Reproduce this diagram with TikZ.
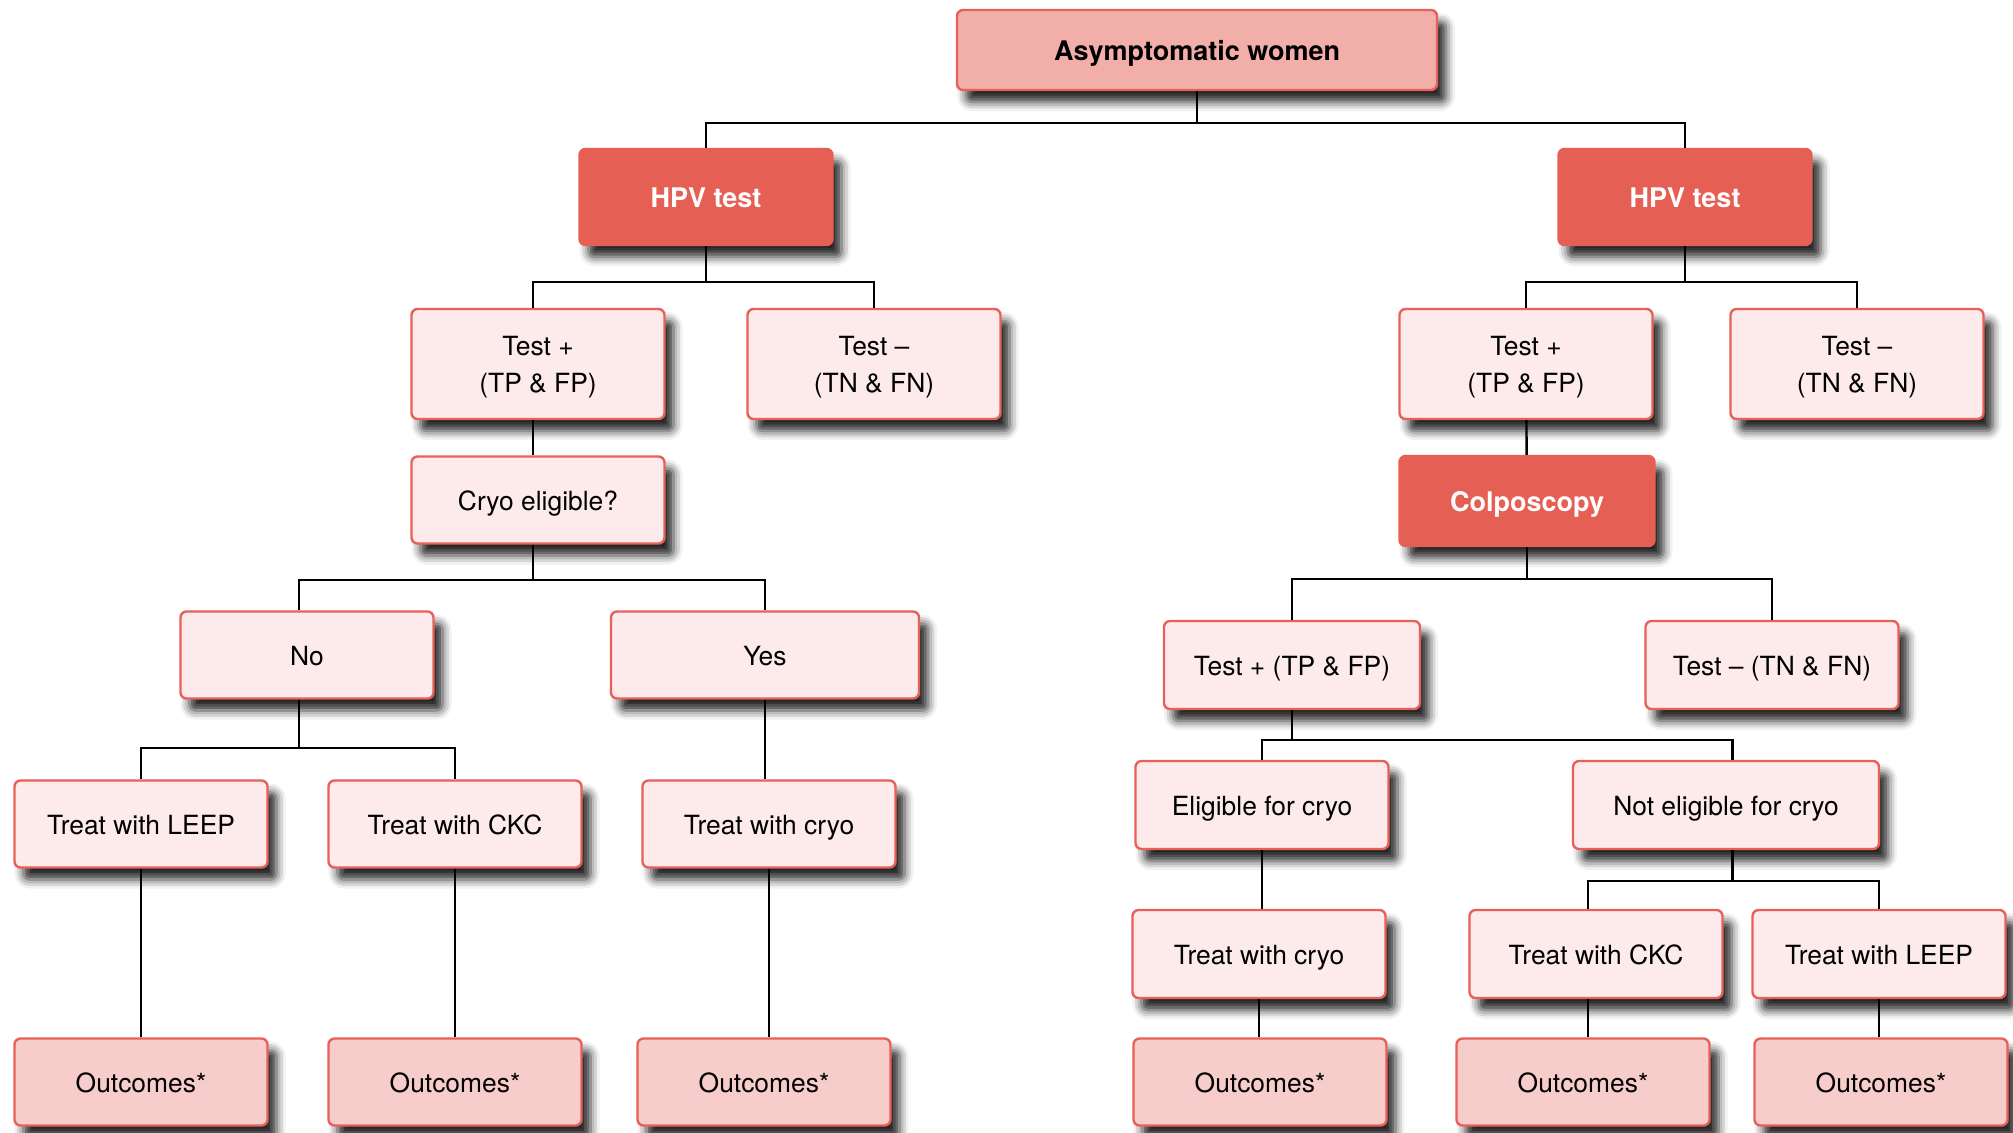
\documentclass[tikz,border=0pt]{standalone}
\usepackage{fontspec}
\setmainfont{TeX Gyre Heros}
\usetikzlibrary{shadows.blur}

\definecolor{edgered}{HTML}{E8605A}
\definecolor{darkred}{HTML}{E65F55}
\definecolor{topfill}{HTML}{F2AEA9}
\definecolor{palefill}{HTML}{FCEBEA}
\definecolor{outfill}{HTML}{F7CDCB}

\tikzset{
  box/.style={draw=edgered, line width=1.2pt, rounded corners=3pt,
    minimum width=126.5pt, minimum height=43.5pt, inner sep=2pt,
    text height=12.6pt, text depth=2.4pt,
    align=center, font=\fontsize{13.2}{18.6}\selectfont,
    blur shadow={shadow xshift=4.5pt, shadow yshift=-6pt,
      shadow blur radius=4.5pt, shadow opacity=85}},
  pale/.style={box, fill=palefill},
  twoline/.style={pale, minimum height=55pt, text height=31.2pt},
  outbox/.style={box, fill=outfill},
  strong/.style={box, fill=darkred, draw=darkred, text=white,
    font=\fontsize{13.5}{18.6}\selectfont\bfseries},
  link/.style={line width=1.2pt, black}
}

% parent -> horizontal bar at y -> child
\newcommand\forkto[3]{\draw[link] (#1.south) -- (#1.south |- 0,#2) -| (#3.north);}

\begin{document}
\begin{tikzpicture}[x=0.5pt, y=-0.5pt]
    \useasboundingbox (0,0) rectangle (2013,1132);

    \node[box, fill=topfill, minimum width=240pt, minimum height=40pt,
      font=\fontsize{13.5}{18.6}\selectfont\bfseries] (root) at (1197,50) {Asymptomatic women};

    \node[strong, minimum height=48pt] (hpvL) at (706,197) {HPV test};
    \node[strong, minimum height=48pt] (hpvR) at (1685,197) {HPV test};

    \node[twoline] (posL) at (538,364) {Test +\\(TP \& FP)};
    \node[twoline] (negL) at (874,364) {Test –\\(TN \& FN)};
    \node[twoline] (posR) at (1526,364) {Test +\\(TP \& FP)};
    \node[twoline] (negR) at (1857,364) {Test –\\(TN \& FN)};

    \node[pale] (cryoQ) at (538,500) {Cryo eligible?};
    \node[strong, minimum width=127.5pt, minimum height=45pt] (colpo) at (1527,501) {Colposcopy};

    \node[pale] (no) at (307,655) {No};
    \node[pale, minimum width=154pt] (yes) at (765,655) {Yes};
    \node[pale, minimum width=128pt, minimum height=44pt] (posC) at (1292,665) {Test + (TP \& FP)};
    \node[pale, minimum height=44pt] (negC) at (1772,665) {Test – (TN \& FN)};

    \node[pale] (leepL) at (141,824) {Treat with LEEP};
    \node[pale] (ckcL) at (455,824) {Treat with CKC};
    \node[pale] (cryoL) at (769,824) {Treat with cryo};
    \node[pale, minimum height=44pt] (elig) at (1262,805) {Eligible for cryo};
    \node[pale, minimum width=153pt, minimum height=44pt] (nelig) at (1726,805) {Not eligible for cryo};

    \node[pale, minimum height=44pt] (cryoR) at (1259,954) {Treat with cryo};
    \node[pale, minimum height=44pt] (ckcR) at (1596,954) {Treat with CKC};
    \node[pale, minimum height=44pt] (leepR) at (1879,954) {Treat with LEEP};

    \node[outbox] (out1) at (141,1082) {Outcomes*};
    \node[outbox] (out2) at (455,1082) {Outcomes*};
    \node[outbox] (out3) at (764,1082) {Outcomes*};
    \node[outbox] (out4) at (1260,1082) {Outcomes*};
    \node[outbox] (out5) at (1583,1082) {Outcomes*};
    \node[outbox] (out6) at (1881,1082) {Outcomes*};

    \forkto{root}{123}{hpvL}
    \forkto{root}{123}{hpvR}
    \draw[link] (hpvL.south) -- (hpvL.south |- 0,282) -| ([xshift=-2.6pt]posL.north);
    \forkto{hpvL}{282}{negL}
    \forkto{hpvR}{282}{posR}
    \forkto{hpvR}{282}{negR}
    \draw[link] ([xshift=-2.6pt]posL.south) -- ([xshift=-2.6pt]cryoQ.north);
    \draw[link] (posR) -- (colpo);
    \draw[link] ([xshift=-2.6pt]cryoQ.south) -- ([xshift=-2.6pt]cryoQ.south |- 0,580) -| ([xshift=-3.9pt]no.north);
    \draw[link] ([xshift=-2.6pt]cryoQ.south) -- ([xshift=-2.6pt]cryoQ.south |- 0,580) -| (yes.north);
    \forkto{colpo}{579}{posC}
    \forkto{colpo}{579}{negC}
    \draw[link] ([xshift=-3.9pt]no.south) -- ([xshift=-3.9pt]no.south |- 0,748) -| (leepL.north);
    \draw[link] ([xshift=-3.9pt]no.south) -- ([xshift=-3.9pt]no.south |- 0,748) -| (ckcL.north);
    \draw[link] (yes.south) -- (yes.south |- cryoL.north);
    \forkto{posC}{740}{elig}
    \draw[link] (posC.south) -- (posC.south |- 0,740) -| ([xshift=3.2pt]nelig.north);
    \draw[link] (elig.south) -- (elig.south |- cryoR.north);
    \draw[link] ([xshift=3.2pt]nelig.south) -- ([xshift=3.2pt]nelig.south |- 0,881) -| ([xshift=-3.9pt]ckcR.north);
    \draw[link] ([xshift=3.2pt]nelig.south) -- ([xshift=3.2pt]nelig.south |- 0,881) -| (leepR.north);
    \draw[link] (leepL) -- (out1);
    \draw[link] (ckcL) -- (out2);
    \draw[link] (cryoL.south) -- (cryoL.south |- out3.north);
    \draw[link] (cryoR.south) -- (cryoR.south |- out4.north);
    \draw[link] ([xshift=-3.9pt]ckcR.south) -- ([xshift=-3.9pt]ckcR.south |- out5.north);
    \draw[link] (leepR.south) -- (leepR.south |- out6.north);
\end{tikzpicture}
\end{document}
